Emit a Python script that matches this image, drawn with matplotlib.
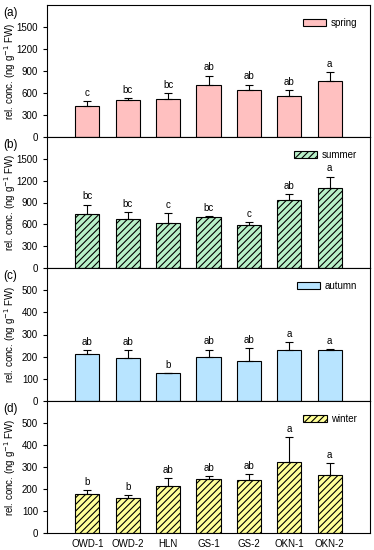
import numpy as np
import matplotlib.pyplot as plt

plt.rcParams['font.family'] = ['Liberation Sans', 'DejaVu Sans']
plt.rcParams['hatch.linewidth'] = 0.8

sites = ['OWD-1', 'OWD-2', 'HLN', 'GS-1', 'GS-2', 'OKN-1', 'OKN-2']

spring = [420, 500, 520, 705, 640, 565, 770]
spring_err = [65, 25, 80, 130, 75, 70, 110]
spring_let = ['c', 'bc', 'bc', 'ab', 'ab', 'ab', 'a']

summer = [740, 675, 620, 700, 595, 930, 1100]
summer_err = [130, 95, 130, 12, 40, 80, 155]
summer_let = ['bc', 'bc', 'c', 'bc', 'c', 'ab', 'a']

autumn = [210, 192, 127, 198, 182, 229, 229]
autumn_err = [20, 37, 0, 33, 55, 37, 6]
autumn_let = ['ab', 'ab', 'b', 'ab', 'ab', 'a', 'a']

winter = [177, 158, 213, 244, 241, 323, 263]
winter_err = [18, 15, 37, 13, 27, 112, 54]
winter_let = ['b', 'b', 'ab', 'ab', 'ab', 'a', 'a']

panels = [
    ('(a)', 'spring', spring, spring_err, spring_let, '#ffc0c0', '', 1800, 300),
    ('(b)', 'summer', summer, summer_err, summer_let, '#b8f0c8', '/////', 1800, 300),
    ('(c)', 'autumn', autumn, autumn_err, autumn_let, '#b8e4ff', '', 600, 100),
    ('(d)', 'winter', winter, winter_err, winter_let, '#ffff99', '/////', 600, 100),
]

fig = plt.figure(figsize=(3.74, 5.5), dpi=100)
W, H = 374, 550
tops = [5, 137, 268, 401, 533]
x = np.arange(len(sites))

for i, (lab, season, vals, err, lets, color, hatch, ymax, step) in enumerate(panels):
    top, bot = tops[i], tops[i + 1]
    ax = fig.add_axes([47 / W, 1 - bot / H, 323 / W, (bot - top) / H])
    ax.bar(x, vals, width=0.6, color=color, edgecolor='black', linewidth=0.8,
           hatch=hatch, label=season, zorder=2)
    ax.errorbar(x, vals, yerr=[np.zeros(len(vals)), err], fmt='none',
                ecolor='black', elinewidth=0.8, capsize=3, capthick=0.8, zorder=3)
    for xi, v, e, t in zip(x, vals, err, lets):
        ax.text(xi, v + e + ymax * 0.025, t, ha='center', va='bottom', fontsize=7)
    ax.set_xlim(-1, len(sites))
    ax.set_ylim(0, ymax)
    ax.set_yticks(np.arange(0, ymax, step))
    ax.tick_params(axis='y', labelsize=7, direction='out', length=3, width=0.8)
    if i < 3:
        ax.set_xticks([])
    else:
        ax.set_xticks(x)
        ax.set_xticklabels(sites, fontsize=7)
        ax.tick_params(axis='x', length=0, pad=4)
    for s in ax.spines.values():
        s.set_linewidth(0.8)
    ax.set_ylabel('rel. conc. (ng g$^{-1}$ FW)', fontsize=7)
    ax.yaxis.set_label_coords(-29 / 323, 0.5)
    ax.legend(loc='upper right', fontsize=7, frameon=False, handlelength=2.4,
              handleheight=0.7, handletextpad=0.5, borderaxespad=0.9)
    fig.text(3 / W, 1 - (top + 8) / H, lab, fontsize=8.5, va='center', ha='left')

fig.savefig('out.png', dpi=100)
